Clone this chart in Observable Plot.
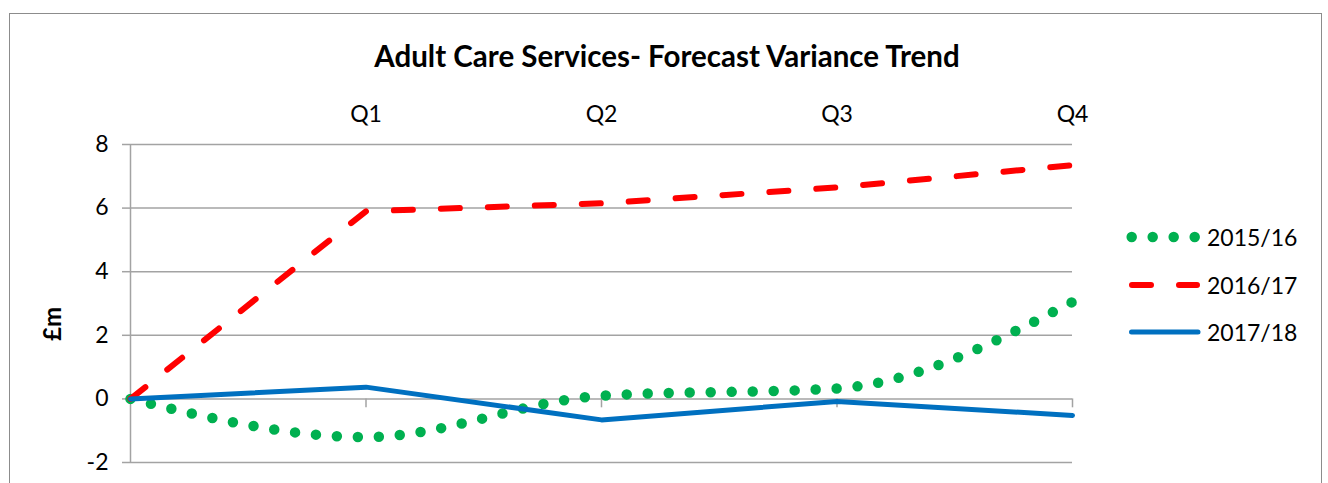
<!DOCTYPE html>
<html><head><meta charset="utf-8">
<script src="https://cdn.jsdelivr.net/npm/d3@7"></script>
<script src="https://cdn.jsdelivr.net/npm/@observablehq/plot@0.6"></script>
<style>
body{margin:0;background:#fff;font-family:Lato, "Open Sans", sans-serif;}
#wrap{position:relative;width:1328px;height:483px;overflow:hidden;background:#fff;}
#frame{position:absolute;left:9px;top:13px;width:1313px;height:520px;border:1.5px solid #8c8c8c;box-sizing:border-box;}
#title{position:absolute;left:0;width:1334px;top:39px;text-align:center;font-weight:bold;font-size:29.5px;line-height:34px;color:#000;}
#ylab{position:absolute;left:51px;top:324px;transform:translate(-50%,-50%) rotate(-90deg);font-weight:bold;font-size:24px;color:#000;white-space:nowrap;}
#plot{position:absolute;left:0;top:0;}
.lg{position:absolute;left:1126px;height:24px;display:flex;align-items:center;}
.lg span{font-size:23px;color:#000;margin-left:3px;line-height:24px;}
</style>
</head><body>
<div id="wrap">
  <div id="frame"></div>
  <div id="plot"></div>
  <div id="title">Adult Care Services- Forecast Variance Trend</div>
  <div id="ylab">£m</div>
</div>
<script>
// ---- data ----
const xIndex = [0, 1, 2, 3, 4];
const qTicks = [1, 2, 3, 4];
const qLabels = ["Q1", "Q2", "Q3", "Q4"];
const yTicks = [-2, 0, 2, 4, 6, 8];
const s1516 = [0, -1.2, 0.1, 0.33, 3.05];
const s1617 = [0, 5.9, 6.15, 6.65, 7.35];
const s1718 = [0, 0.37, -0.66, -0.08, -0.52];
const seriesNames = ["2015/16", "2016/17", "2017/18"];
const seriesColors = ["#00B050", "#FF0000", "#0070C0"];

const rows = vals => xIndex.map((x, i) => ({x, y: vals[i]}));
const gridColor = "#a3a3a3";

const styles = [
  {strokeWidth: 10.5, strokeDasharray: "0 21", strokeLinecap: "round", curve: "monotone-x"},
  {strokeWidth: 6, strokeDasharray: "19 28", strokeLinecap: "round", strokeLinejoin: "round", curve: "linear"},
  {strokeWidth: 5, strokeLinecap: "round", strokeLinejoin: "round", curve: "linear"}
];
const allSeries = [s1516, s1617, s1718];

const chart = Plot.plot({
  width: 1328, height: 483,
  marginTop: 144, marginLeft: 130, marginRight: 256, marginBottom: 21,
  x: {domain: [0, 4], axis: null},
  y: {domain: [-2, 8], axis: null},
  style: {fontFamily: "Lato, 'Open Sans', sans-serif", fontSize: "23px", color: "#000", background: "transparent", overflow: "visible"},
  marks: [
    Plot.gridY(yTicks, {stroke: gridColor, strokeOpacity: 1, strokeWidth: 1.5}),
    Plot.axisY(yTicks, {tickSize: 8, tickPadding: 14, stroke: gridColor, strokeWidth: 1.5, label: null, fontSize: 23, tickFormat: d => String(d)}),
    Plot.ruleX([0], {stroke: gridColor, strokeWidth: 1.5}),
    Plot.ruleX(qTicks, {x: d => d, y1: 0, y2: -0.28, stroke: gridColor, strokeWidth: 1.5}),
    Plot.axisX(qTicks, {anchor: "top", tickSize: 0, tickPadding: 23, label: null, fontSize: 23, tickFormat: d => qLabels[qTicks.indexOf(d)]}),
    ...allSeries.map((s, k) => Plot.line(rows(s), {x: "x", y: "y", stroke: seriesColors[k], ...styles[k]}))
  ]
});
document.getElementById("plot").appendChild(chart);

// ---- legend ----
const wrap = document.getElementById("wrap");
const legendLines = [
  `<line x1="5.7" y1="12" x2="70" y2="12" stroke="${seriesColors[0]}" stroke-width="10.5" stroke-dasharray="0 21" stroke-linecap="round"/>`,
  `<line x1="6" y1="12" x2="71" y2="12" stroke="${seriesColors[1]}" stroke-width="6" stroke-dasharray="19 28" stroke-linecap="round"/>`,
  `<line x1="5.5" y1="12" x2="72" y2="12" stroke="${seriesColors[2]}" stroke-width="5" stroke-linecap="round"/>`
];
seriesNames.forEach((name, i) => {
  const d = document.createElement("div");
  d.className = "lg";
  d.style.top = (225 + i * 47.5) + "px";
  d.innerHTML = `<svg width="78" height="24">${legendLines[i]}</svg><span>${name}</span>`;
  wrap.appendChild(d);
});
</script>
</body></html>
